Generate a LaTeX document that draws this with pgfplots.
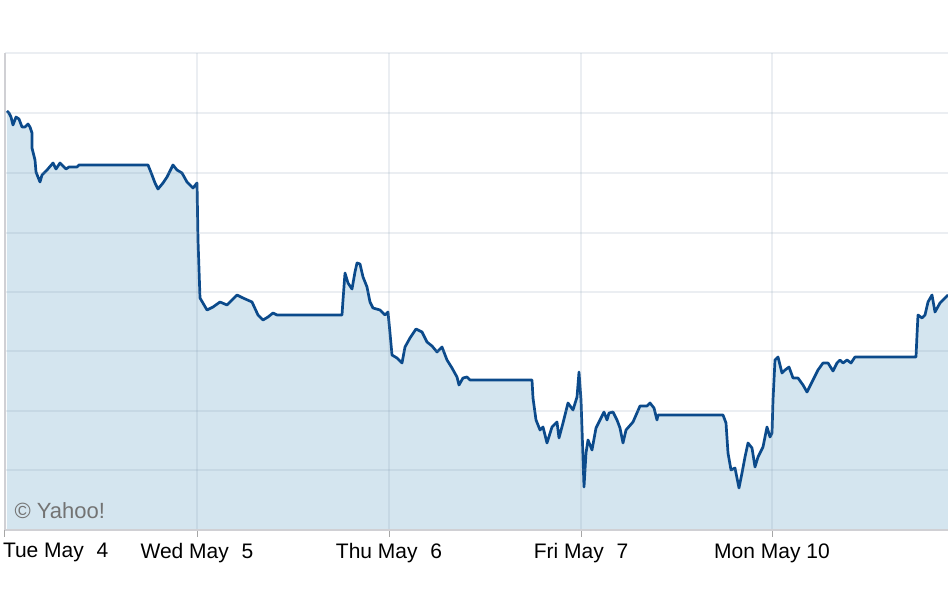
\documentclass[border=0pt]{standalone}
\usepackage{pgfplots}
\pgfplotsset{compat=1.18}
\usepackage{pgfplotstable}
\usepackage{fontspec}
\setmainfont{Liberation Sans}

\definecolor{linec}{HTML}{0B4A8B}
\definecolor{fillc}{HTML}{D4E5EF}
\definecolor{gridc}{HTML}{7890A8}
\definecolor{borderc}{HTML}{D0D0D4}

% x = pixel column, y = pixel row (top = 0)
\pgfplotstableread{
x y
7 111
9 113
11 117
13 125
16 117
19 119
22 127
25 127
28 124
30 127
32 133
32 148
35 160
36 172
40 182
42 175
47 170
53 163
56 169
60 163
66 169
69 167
77 167
79 165
148 165
152 175
155 183
158 189
163 183
167 177
173 165
177 170
182 173
187 182
192 187
193 188
197 183
198 240
200 298
207 310
213 307
220 302
227 305
237 295
243 298
252 302
258 315
263 320
268 317
273 313
277 315
342 315
343 300
345 273
348 283
352 289
355 272
357 263
360 264
363 277
367 287
370 302
373 308
380 310
385 315
388 312
390 333
392 355
397 358
402 363
405 347
410 338
416 329
422 332
427 342
432 346
437 352
442 347
447 360
452 368
457 377
459 385
463 378
467 377
470 380
532 380
533 398
536 420
540 430
543 427
547 443
552 427
557 422
559 438
563 423
568 403
573 410
577 397
579 372
581 400
583 458
584 487
586 453
588 440
592 450
596 428
600 420
604 412
607 420
609 413
613 412
617 420
620 428
623 443
626 430
633 422
640 406
647 406
650 403
654 408
657 420
658 415
723 415
726 423
728 453
731 470
735 468
737 478
739 488
742 473
745 457
748 443
752 448
755 467
758 457
763 447
767 427
770 437
772 433
773 400
775 360
778 357
782 373
785 370
789 367
793 378
798 378
803 385
807 392
813 380
818 370
823 363
828 363
833 371
837 363
840 360
843 363
847 360
851 363
855 357
916 357
917 335
918 315
922 318
925 315
928 302
932 295
935 312
940 303
948 295
}\price

\begin{document}
\begin{tikzpicture}
\path[use as bounding box] (0,0) rectangle (948pt,615pt);
\begin{axis}[
  at={(5pt,85pt)}, anchor=south west,
  scale only axis,
  width=945pt, height=477pt,
  xmin=5, xmax=950,
  ymin=85, ymax=562,
  axis x line*=bottom,
  axis y line*=left,
  axis line style={draw=borderc, line width=1.5pt},
  axis on top,
  xtick={5,197,389,581,772},
  xticklabels={\makebox[0pt][l]{\hspace*{-2pt}Tue May\hspace{0.33em} 4},
    Wed May\hspace{0.33em} 5, Thu May\hspace{0.33em} 6, Fri May\hspace{0.33em} 7, Mon May 10},
  ytick={85,145,204,264,323,382,442,502,562},
  yticklabels={},
  xmajorgrids, ymajorgrids,
  grid style={draw=gridc, draw opacity=0.15, line width=2pt},
  tick align=outside,
  major tick length=7pt,
  xtick style={draw=gray!70, line width=1pt},
  ytick style={draw=none},
  x tick label style={font=\fontsize{21}{24}\selectfont, text=black, yshift=-3pt},
]
\addplot[fill=fillc, draw=none] table[x=x, y expr=615-\thisrow{y}] {\price} \closedcycle;
\addplot[draw=linec, line width=2.7pt, line join=round] table[x=x, y expr=615-\thisrow{y}] {\price};
\node[anchor=base west, text=black!55, font=\fontsize{22}{24}\selectfont]
  at (axis cs:11,96) {\textcopyright\ Yahoo!};
\end{axis}
\end{tikzpicture}
\end{document}
